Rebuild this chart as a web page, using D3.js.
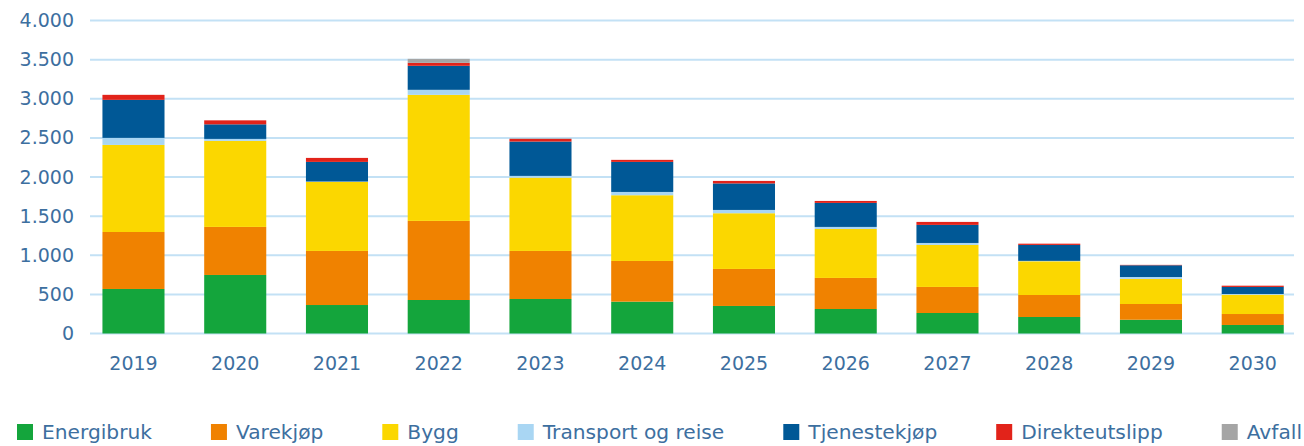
<!DOCTYPE html>
<html>
<head>
<meta charset="utf-8">
<script src="https://cdn.jsdelivr.net/npm/d3@7"></script>
<style>
  body { margin: 0; background: #fff; }
  svg text { font-family: "DejaVu Sans", sans-serif; fill: #3d6f9f; }
</style>
</head>
<body>
<div class="wrapper"></div>
<script>
var width = 1304,
    height = 446;

var years = ["2019", "2020", "2021", "2022", "2023", "2024", "2025", "2026", "2027", "2028", "2029", "2030"];
var yTicks = [0, 500, 1000, 1500, 2000, 2500, 3000, 3500, 4000];

var seriesNames = ["Energibruk", "Varekjøp", "Bygg", "Transport og reise", "Tjenestekjøp", "Direkteutslipp", "Avfall"];
var seriesColors = ["#14a53c", "#f08200", "#fbd700", "#a9d6f3", "#005896", "#e2231a", "#a5a5a5"];

var energibruk     = [569, 748, 364, 428, 441, 407, 352, 313, 262, 211, 176, 109];
var varekjop       = [728, 614, 691, 1011, 614, 520, 473, 397, 333, 281, 201, 140];
var bygg           = [1113, 1100, 882, 1611, 937, 840, 712, 626, 537, 431, 320, 247];
var transport      = [90, 25, 5, 64, 22, 42, 42, 26, 25, 5, 25, 9];
var tjenestekjop   = [486, 186, 251, 307, 439, 384, 339, 307, 231, 204, 150, 90];
var direkteutslipp = [64, 51, 51, 38, 34, 26, 32, 25, 38, 16, 5, 16];
var avfall         = [0, 0, 0, 51, 6, 0, 0, 0, 0, 0, 0, 0];

var seriesValues = [energibruk, varekjop, bygg, transport, tjenestekjop, direkteutslipp, avfall];

// table for d3.stack
var rows = years.map(function(yr, i) {
  var r = { year: yr };
  seriesNames.forEach(function(n, k) { r[n] = seriesValues[k][i]; });
  return r;
});

var x = d3.scaleBand()
    .domain(years)
    .range([82.6, 1303.6])
    .paddingInner(0.39)
    .paddingOuter(0.195);

var y = d3.scaleLinear()
    .domain([0, 4000])
    .range([333.5, 20.5]);

var color = d3.scaleOrdinal().domain(seriesNames).range(seriesColors);

var fmt = function(d) { return d3.format(",")(d).replace(/,/g, "."); };

var svg = d3.select(".wrapper").append("svg")
    .attr("width", width)
    .attr("height", height);

// gridlines
svg.append("g").attr("class", "grid")
  .selectAll("line")
  .data(yTicks)
  .enter().append("line")
    .attr("x1", 90)
    .attr("x2", 1294)
    .attr("y1", function(d) { return y(d); })
    .attr("y2", function(d) { return y(d); })
    .attr("stroke", "#c3e1f5")
    .attr("stroke-width", 2);

// y axis labels
var yAxis = svg.append("g")
    .attr("transform", "translate(90,0)")
    .call(d3.axisLeft(y).tickValues(yTicks).tickFormat(fmt).tickSize(0).tickPadding(16));
yAxis.select(".domain").remove();
yAxis.selectAll("text").style("font-size", "19px").attr("fill", null);

// stacked bars
var stack = d3.stack().keys(seriesNames);
var layers = svg.append("g").selectAll("g")
    .data(stack(rows))
  .enter().append("g")
    .attr("fill", function(d) { return color(d.key); });

layers.selectAll("rect")
    .data(function(d) { return d; })
  .enter().append("rect")
    .attr("x", function(d) { return x(d.data.year); })
    .attr("width", x.bandwidth())
    .attr("y", function(d) { return y(d[1]); })
    .attr("height", function(d) { return Math.max(0, y(d[0]) - y(d[1])); });

// x axis labels
var xAxis = svg.append("g")
    .attr("transform", "translate(0," + y(0) + ")")
    .call(d3.axisBottom(x).tickSize(0).tickPadding(23));
xAxis.select(".domain").remove();
xAxis.selectAll("text").style("font-size", "19px").attr("fill", null);

// legend
var legend = svg.append("g").attr("class", "legend");
var cx = 17;
seriesNames.forEach(function(name) {
  var item = legend.append("g");
  item.append("rect")
      .attr("x", cx)
      .attr("y", 424)
      .attr("width", 16)
      .attr("height", 16)
      .attr("fill", color(name));
  var t = item.append("text")
      .attr("x", cx + 25)
      .attr("y", 432)
      .attr("dy", "0.35em")
      .style("font-size", "20.2px")
      .text(name);
  cx += 25 + t.node().getComputedTextLength() + 59;
});
</script>
</body>
</html>
